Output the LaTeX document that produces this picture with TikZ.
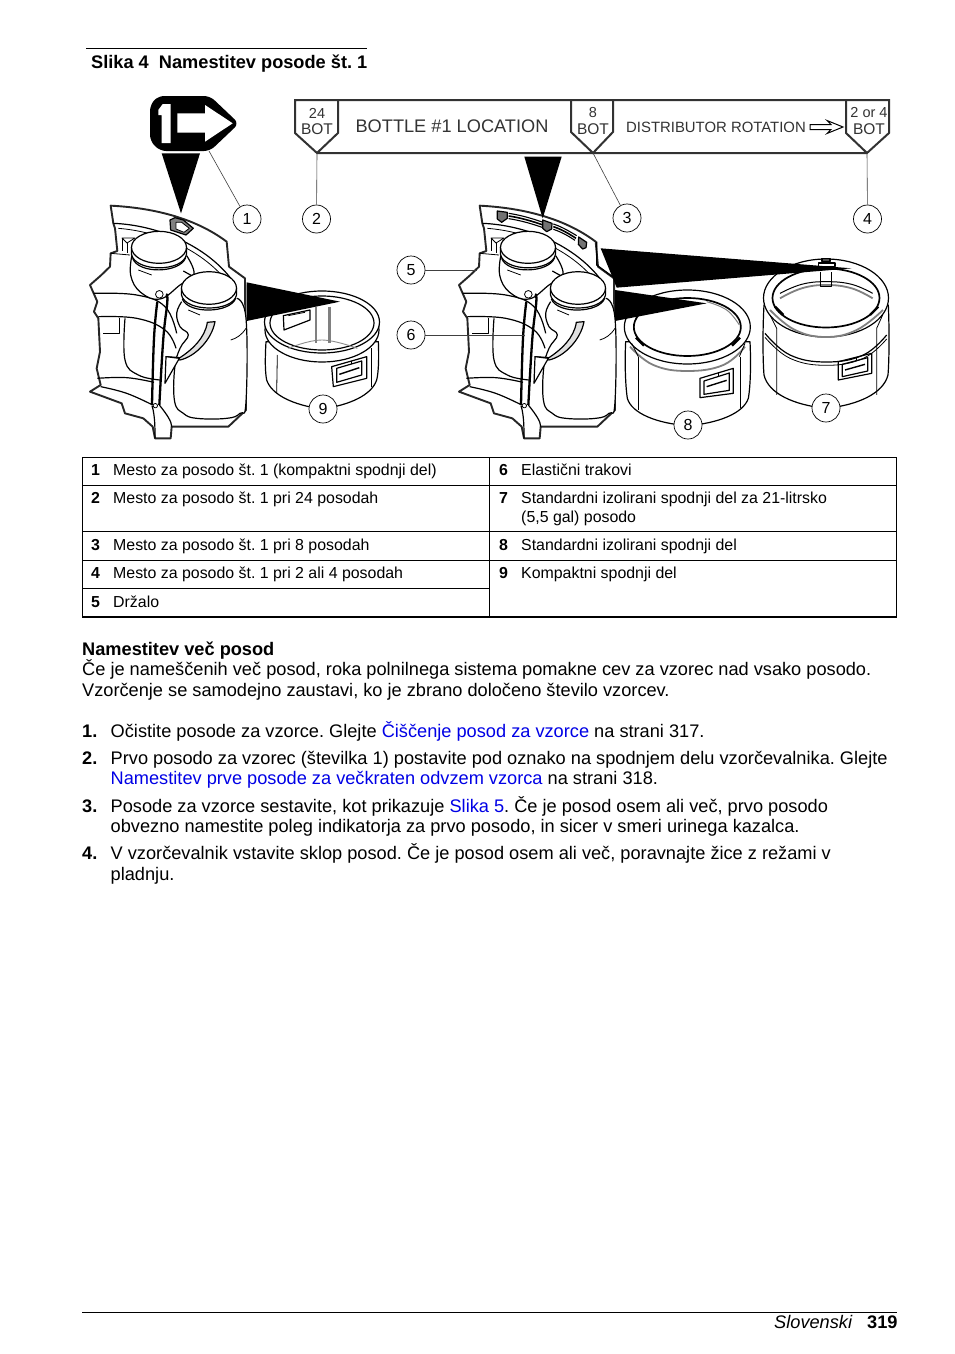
\documentclass[tikz,border=0pt]{standalone}
\usepackage{fontspec}
\setmainfont{Liberation Sans}
\frenchspacing
\definecolor{linkblue}{RGB}{0,0,230}
\definecolor{bandgray}{RGB}{50,50,50}
\tikzset{
 x=1pt,y=-1pt,
 txt/.style={inner sep=0pt,anchor=base west,font=\fontsize{18.2}{20}\selectfont},
 tab/.style={inner sep=0pt,anchor=base west,font=\fontsize{15.9}{17}\selectfont},
 tabb/.style={tab,font=\fontsize{15.9}{17}\selectfont\bfseries},
 hdr/.style={txt,font=\fontsize{18.2}{20}\selectfont\bfseries},
 callout/.style={circle,draw=black,fill=white,line width=.7pt,minimum size=28pt,inner sep=0pt,font=\fontsize{16}{18}\selectfont},
 leader/.style={draw=black!75,line width=.6pt},
 art/.style={draw=black,line width=.8pt,line join=round},
 med/.style={draw=black,line width=1.2pt,line join=round},
 heavy/.style={draw=black!85,line width=1.9pt,line join=round},
 flag/.style={draw=bandgray,line width=2pt,line join=miter},
 bant/.style={inner sep=0pt,text=black!80},
 rule/.style={draw=black,line width=.7pt},
 zoomone/.style={shift={(80,85)},x=.33333pt,y=-.33333pt},
 zoomtwo/.style={shift={(390,85)},x=.33333pt,y=-.33333pt},
 sm/.style={smooth,tension=.7},
}
\newcommand{\carouselart}[1]{%
\begin{scope}[zoomone,xshift=#1pt]
 % silhouette
 \draw[heavy,fill=white] (92,362) .. controls (210,368) and (340,395) .. (440,470) -- (447,545) -- (495,580) -- (498,975) -- (445,1025) -- (275,1025) -- (272,1060) -- (225,1060) -- (218,1025) -- (190,1000) -- (135,985) -- (125,955) -- (30,920) -- (62,900) -- (50,850) -- (60,800) -- (55,700) -- (42,680) -- (52,650) -- (30,600) -- (62,572) -- (90,545) -- (92,505) -- (112,498) -- (105,430) -- (100,415) -- cycle;
 \draw[med] (100,415) .. controls (230,420) and (380,480) .. (460,590);
 \draw[art] (115,430) .. controls (240,440) and (370,495) .. (450,600);
 % strips
 \draw[med] plot[sm] coordinates {(40,625) (170,630) (255,665) (290,745)};
 \draw[med] plot[sm] coordinates {(55,695) (170,700) (255,735) (288,790)};
 \draw[med] plot[sm] coordinates {(52,880) (140,878) (222,892)};
 \draw[med] plot[sm] coordinates {(62,905) (140,925) (218,960)};
 \draw[art] (70,745) -- (118,745) -- (118,700);
 \draw[med] plot[sm] coordinates {(135,700) (135,825) (175,870) (240,885)};
 \draw[art] (92,505) -- (150,510);
 \draw[art] (126,459) -- (165,459) -- (141,474) -- cycle;
 \draw[art] (126,459) -- (126,498);
 \draw[art] (141,474) -- (141,505);
 % rear bottle
 \draw[med,fill=white] plot[sm] coordinates {(157,505) (152,570) (182,622) (240,642) (300,600) (342,568) (320,512)};
 \draw[med,fill=white] (154.5,487) -- (154.5,508) .. controls (165,562) and (310,562) .. (319.5,508) -- (319.5,487) -- cycle;
 \draw[med] (158,520) .. controls (175,568) and (300,565) .. (317,518);
 \draw[med,fill=white] (237,487) ellipse [x radius=27.5pt,y radius=16pt];
 \draw[art] (175,555) -- (215,570);
 \draw[med] (310,558) -- (335,572);
 % front bottle
 \draw[med,fill=white] plot[sm] coordinates {(305,650) (290,685) (300,725) (325,750) (300,790) (284,850) (284,950) (310,985) (350,1000) (440,1000) (480,985) (498,950) (498,700) (470,640)};
 \draw[med,fill=white] (304.5,609) -- (304.5,630) .. controls (315,682) and (460,682) .. (469.5,630) -- (469.5,609) -- cycle;
 \draw[med] (307,642) .. controls (325,688) and (450,685) .. (467,640);
 \draw[med,fill=white] (387,609) ellipse [x radius=27.5pt,y radius=16.3pt];
 \draw[art] (325,675) -- (360,690);
 \draw[art] (498,730) .. controls (485,750) and (470,760) .. (452,765);
 % swoosh
 \draw[med,fill=black!12] (405,710) .. controls (395,765) and (345,815) .. (300,825) -- (258,815) -- (300,818) .. controls (335,795) and (375,760) .. (382,712) -- cycle;
 \draw[med,fill=white] (258,815) -- (298,820) -- (255,895) -- cycle;
 % rod
 \draw[draw=black,line width=2.3pt] plot[sm] coordinates {(232,650) (222,760) (216,960)};
 \draw[draw=black,line width=2.3pt] plot[sm] coordinates {(258,628) (262,650) (250,760) (238,960)};
 \draw[art,fill=white] (238,628) circle (3.8pt);
 \draw[art,fill=white] (226,962) circle (2.2pt);
 \draw[med] (216,962) .. controls (225,990) and (225,1030) .. (225,1060);
 \draw[med] (238,960) .. controls (262,990) and (275,1010) .. (275,1025);
\end{scope}}
\begin{document}
\begin{tikzpicture}
\useasboundingbox (0,0) rectangle (954,1354);
\fill[white] (0,0) rectangle (954,1354);
% caption
\draw[rule] (86,48) -- (367,48);
\node[hdr] (cap) at (91,68) {Slika 4\ \ Namestitev posode št. 1};

% banner
\draw[flag] (295,100) -- (889,100) -- (889,133) -- (867,153) -- (317,153) -- (295,133) -- cycle;
\draw[flag] (338,100) -- (338,133) -- (317,153);
\draw[flag] (571,100) -- (571,132) -- (593,153) -- (613,132) -- (613,100);
\draw[flag] (846,100) -- (846,133) -- (867,153);
\coordinate (f2) at (317,153);
\coordinate (f3) at (593,153);
\coordinate (f4) at (867,153);
\coordinate (f1) at (209,151);
\node[bant,font=\fontsize{14.5}{16}\selectfont] (b24) at (317,113) {24};
\node[bant,font=\fontsize{15.5}{16}\selectfont] (b24b) at (317,129) {BOT};
\node[bant,font=\fontsize{18.2}{22}\selectfont] (bl) at (452,126) {BOTTLE \#1 LOCATION};
\node[bant,font=\fontsize{14.5}{16}\selectfont] (b8) at (593,113) {8};
\node[bant,font=\fontsize{15.5}{16}\selectfont] (b8b) at (593,129) {BOT};
\node[bant,font=\fontsize{14.9}{18}\selectfont] (dr) at (716,127) {DISTRIBUTOR ROTATION};
\node[bant,font=\fontsize{14.5}{16}\selectfont] (b2) at (869,113) {2 or 4};
\node[bant,font=\fontsize{15.5}{16}\selectfont] (b2b) at (869,129) {BOT};
% rotation arrow
\draw[draw=black,line width=1pt,fill=white] (810,124.5) -- (831,124.5) -- (827,120.5) -- (843,127) -- (827,133.5) -- (831,129.5) -- (810,129.5) -- cycle;

% big icon
\fill[black,rounded corners=6pt] (150,105) -- (158,96) -- (210,96) -- (239,123.5) -- (210,151) -- (160,151) -- (150,141) -- cycle;
\fill[white] (158.3,110) -- (162.7,104) -- (170.7,104) -- (170.7,143) -- (161.7,143) -- (161.7,115) -- (158.3,115) -- cycle;
\fill[white] (177.3,113.3) -- (205,113.3) -- (205,105) -- (232.7,123.3) -- (205,141.7) -- (205,132.7) -- (177.3,132.7) -- cycle;

% artwork
\carouselart{0}
\carouselart{369}

% small icon on left band
\begin{scope}[zoomone]
 \draw[med,fill=black!50] (270,405) -- (285,398) -- (310,405) -- (340,430) -- (318,450) -- (272,435) -- cycle;
 \draw[art,fill=white] (288,412) -- (305,412) -- (328,430) -- (312,442) -- (288,432) -- cycle;
\end{scope}
% slots on right band
\begin{scope}[zoomtwo]
 \draw[med,fill=black!55] (322,378) -- (352,382) -- (352,400) -- (335,412) -- (322,402) -- cycle;
 \draw[med,fill=black!55] (458,405) -- (486,415) -- (485,432) -- (470,440) -- (458,430) -- cycle;
 \draw[med,fill=black!55] (566,456) -- (590,472) -- (588,488) -- (578,492) -- (565,478) -- cycle;
 \draw[draw=black,line width=1.1pt] (356,385) .. controls (390,390) and (425,400) .. (456,411);
 \draw[draw=black,line width=1.6pt] (356,393) .. controls (390,398) and (425,408) .. (456,419);
 \draw[draw=black,line width=1.1pt] (356,401) .. controls (390,406) and (425,416) .. (456,427);
 \draw[draw=black,line width=1.1pt] (490,417) .. controls (515,425) and (540,440) .. (560,452);
 \draw[draw=black,line width=1.6pt] (490,425) .. controls (515,433) and (540,448) .. (558,460);
 \draw[draw=black,line width=1.1pt] (490,433) .. controls (515,441) and (535,453) .. (555,466);
 \draw[med] (620,470) -- (620,540) -- (668,575);
\end{scope}

% bucket 9
\begin{scope}[zoomone]
 \draw[med,fill=white] (558,770) .. controls (555,820) and (555,860) .. (560,885) .. controls (575,930) and (640,960) .. (725,972) .. controls (810,960) and (875,930) .. (890,885) .. controls (896,860) and (897,820) .. (895,770) -- cycle;
 \draw[med,fill=white] (726,735) ellipse [x radius=57pt,y radius=32pt];
 \draw[med,fill=white] (726,711) ellipse [x radius=57.5pt,y radius=31pt];
 \draw[med] (726,714) ellipse [x radius=52pt,y radius=27pt];
 \draw[draw=black!45,line width=.9pt] plot[sm] coordinates {(625,790) (725,765) (832,790)};
 \draw[draw=black!50,line width=2.6pt] (708,665) -- (708,775);
 \draw[draw=black!50,line width=2.6pt] (748,665) -- (748,775);
 \draw[med,fill=white] (610,692) -- (690,675) -- (690,705) -- (612,735) -- cycle;
 \draw[art] (625,692) -- (675,682);
 \draw[med] (755,845) -- (860,815) -- (860,880) -- (760,905) -- cycle;
 \draw[med] (770,850) -- (845,828) -- (845,870) -- (770,892) -- cycle;
 \draw[draw=black,line width=1.4pt] (778,868) -- (838,848);
 \draw[art] (592,810) -- (590,925);
 \draw[art] (875,790) -- (875,905);
 \draw[art] (815,828) -- (815,838);
\end{scope}

% bucket 8
\begin{scope}[zoomtwo]
 \draw[med,fill=white] (707,770) .. controls (704,830) and (706,900) .. (712,940) .. controls (725,985) and (800,1015) .. (892,1022) .. controls (985,1015) and (1060,985) .. (1075,940) .. controls (1082,900) and (1083,830) .. (1080,770) -- cycle;
 \draw[med,fill=white] (892,726) ellipse [x radius=63pt,y radius=37pt];
 \draw[draw=black!50,line width=1.8pt] plot[sm] coordinates {(720,785) (790,840) (892,858) (1000,840) (1065,785)};
 \draw[draw=black,line width=1.7pt] (892,726) ellipse [x radius=53.5pt,y radius=29pt];
 \draw[draw=black!50,line width=1pt] plot[sm] coordinates {(950,650) (1010,675) (1048,720)};
 \draw[draw=black,line width=2.4pt] (738,758) -- (762,782);
 \draw[draw=black,line width=2.4pt] (1050,758) -- (1026,782);
 \draw[art] (725,775) -- (745,815);
 \draw[art] (1065,775) -- (1048,815);
 \draw[art] (745,815) -- (745,975);
 \draw[art] (1050,815) -- (1050,970);
 \draw[med] (930,880) -- (1030,850) -- (1030,925) -- (930,938) -- cycle;
 \draw[med] (942,888) -- (1018,864) -- (1018,916) -- (942,928) -- cycle;
 \draw[draw=black,line width=1.4pt] (950,905) -- (1010,886);
 \draw[art] (985,865) -- (985,875);
\end{scope}

% bucket 7
\begin{scope}[zoomtwo]
 \draw[med,fill=white] (1122,660) .. controls (1118,730) and (1118,820) .. (1122,870) .. controls (1135,925) and (1210,960) .. (1308,970) .. controls (1405,960) and (1480,925) .. (1494,870) .. controls (1498,820) and (1498,730) .. (1495,660) -- cycle;
 \draw[med] plot[sm] coordinates {(1125,745) (1200,810) (1310,831) (1420,810) (1490,750)};
 \draw[art] plot[sm] coordinates {(1125,757) (1200,820) (1310,841) (1420,820) (1490,762)};
 \draw[med,fill=white] (1308,639) ellipse [x radius=62.5pt,y radius=39pt];
 \draw[draw=black!50,line width=1.8pt] plot[sm] coordinates {(1140,675) (1215,735) (1308,756) (1400,735) (1479,675)};
 \draw[draw=black,line width=1.7pt] (1308,639) ellipse [x radius=53.5pt,y radius=29.5pt];
 \draw[draw=black,line width=1pt] plot[sm] coordinates {(1170,625) (1235,598) (1308,590) (1385,598) (1448,625)};
 \draw[draw=black!50,line width=1.8pt] plot[sm] coordinates {(1170,640) (1235,610) (1308,600) (1385,610) (1448,640)};
 \draw[draw=black,line width=2.4pt] (1155,665) -- (1180,690);
 \draw[draw=black,line width=2.4pt] (1465,665) -- (1440,690);
 \draw[art] (1290,560) -- (1290,605) -- (1325,605) -- (1325,560);
 \draw[med,fill=black!70] (1296,520) rectangle (1320,530);
 \draw[med] (1285,534) rectangle (1335,545);
 \draw[art] (1140,690) -- (1160,730) -- (1160,930);
 \draw[art] (1478,690) -- (1460,730) -- (1460,930);
 \draw[med] (1345,830) -- (1445,805) -- (1445,865) -- (1345,885) -- cycle;
 \draw[med] (1357,838) -- (1433,818) -- (1433,858) -- (1357,875) -- cycle;
 \draw[draw=black,line width=1.4pt] (1365,855) -- (1425,838);
 \draw[art] (1400,815) -- (1400,825);
\end{scope}

% pointers
\begin{scope}[zoomone]
 \fill[black] (245,205) -- (360,205) -- (303,385) -- cycle;
 \fill[black] (500,592) -- (780,650) -- (500,708) -- cycle;
\end{scope}
\begin{scope}[zoomtwo]
 \fill[black] (403,215) -- (515,215) -- (458,400) -- cycle;
 \fill[black] (632,490) -- (1385,550) -- (680,608) -- cycle;
 \fill[black] (675,615) -- (950,655) -- (675,708) -- cycle;
\end{scope}

% callouts
\node[callout] (c1) at (247,219) {1};
\node[callout] (c2) at (316.5,219) {2};
\node[callout] (c3) at (627,218) {3};
\node[callout] (c4) at (867.5,219) {4};
\node[callout] (c5) at (411,270) {5};
\node[callout] (c6) at (411,335) {6};
\node[callout] (c7) at (826,408) {7};
\node[callout] (c8) at (688,425) {8};
\node[callout] (c9) at (323,409) {9};
\coordinate (t5) at (477,270);
\coordinate (t6) at (525,335);
\draw[leader] (f1) -- (c1);
\draw[leader] (f2) -- (c2);
\draw[leader] (f3) -- (c3);
\draw[leader] (f4) -- (c4);
\draw[leader] (c5) -- (t5);
\draw[leader] (c6) -- (t6);

% table
\draw[rule] (82,457) rectangle (896,617);
\draw[draw=black,line width=1.2pt] (82,617) -- (896,617);
\draw[rule] (489,457) -- (489,617);
\draw[rule] (82,485) -- (896,485);
\draw[rule] (82,531) -- (896,531);
\draw[rule] (82,560) -- (896,560);
\draw[rule] (82,588) -- (489,588);
\node[tabb] (n1) at (91,475) {1};
\node[tab] (t1) at (113,475) {Mesto za posodo št. 1 (kompaktni spodnji del)};
\node[tabb] (n2) at (91,503) {2};
\node[tab] (t2) at (113,503) {Mesto za posodo št. 1 pri 24 posodah};
\node[tabb] (n3) at (91,550) {3};
\node[tab] (t3) at (113,550) {Mesto za posodo št. 1 pri 8 posodah};
\node[tabb] (n4) at (91,578) {4};
\node[tab] (t4) at (113,578) {Mesto za posodo št. 1 pri 2 ali 4 posodah};
\node[tabb] (nn5) at (91,607) {5};
\node[tab] (tt5) at (113,607) {Držalo};
\node[tabb] (nn6) at (499,475) {6};
\node[tab] (tt6) at (521,475) {Elastični trakovi};
\node[tabb] (nn7) at (499,503) {7};
\node[tab] (tt7) at (521,503) {Standardni izolirani spodnji del za 21-litrsko};
\node[tab] (tt7b) at (521,522) {(5,5 gal) posodo};
\node[tabb] (nn8) at (499,550) {8};
\node[tab] (tt8) at (521,550) {Standardni izolirani spodnji del};
\node[tabb] (nn9) at (499,578) {9};
\node[tab] (tt9) at (521,578) {Kompaktni spodnji del};

% body
\node[hdr] (h) at (82,655) {Namestitev več posod};
\node[txt] (p1) at (82,675) {Če je nameščenih več posod, roka polnilnega sistema pomakne cev za vzorec nad vsako posodo.};
\node[txt] (p2) at (82,696) {Vzorčenje se samodejno zaustavi, ko je zbrano določeno število vzorcev.};
\node[hdr] (l1) at (82,737) {1.};
\node[txt] (l1t) at (110.5,737) {Očistite posode za vzorce. Glejte \textcolor{linkblue}{Čiščenje posod za vzorce} na strani 317.};
\node[hdr] (l2) at (82,764) {2.};
\node[txt] (l2t) at (110.5,764) {Prvo posodo za vzorec (številka 1) postavite pod oznako na spodnjem delu vzorčevalnika. Glejte};
\node[txt] (l2u) at (110.5,784) {\textcolor{linkblue}{Namestitev prve posode za večkraten odvzem vzorca} na strani 318.};
\node[hdr] (l3) at (82,812) {3.};
\node[txt] (l3t) at (110.5,812) {Posode za vzorce sestavite, kot prikazuje \textcolor{linkblue}{Slika 5}. Če je posod osem ali več, prvo posodo};
\node[txt] (l3u) at (110.5,832) {obvezno namestite poleg indikatorja za prvo posodo, in sicer v smeri urinega kazalca.};
\node[hdr] (l4) at (82,859) {4.};
\node[txt] (l4t) at (110.5,859) {V vzorčevalnik vstavite sklop posod. Če je posod osem ali več, poravnajte žice z režami v};
\node[txt] (l4u) at (110.5,880) {pladnju.};

% footer
\draw[rule] (82,1312) -- (897,1312);
\node[txt,font=\fontsize{18.2}{20}\selectfont\itshape] (fa) at (774,1328) {Slovenski};
\node[hdr] (fb) at (867,1328) {319};
\end{tikzpicture}
\end{document}
